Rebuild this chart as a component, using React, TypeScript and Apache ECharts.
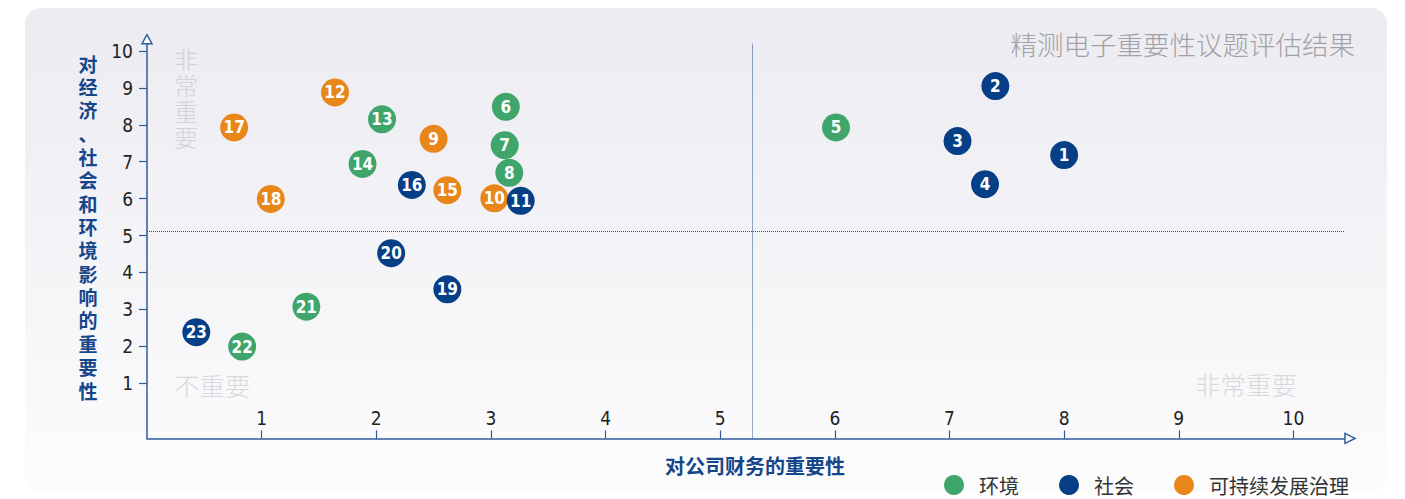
import React, { useEffect, useRef } from "react";
import * as echarts from "echarts";

const CATEGORIES = ["环境", "社会", "可持续发展治理"];
const COLORS = ["#3fa56b", "#063f85", "#e9861a"];

const envIds = [5, 6, 7, 8, 13, 14, 21, 22];
const envX = [6.01, 3.13, 3.12, 3.16, 2.05, 1.88, 1.39, 0.83];
const envY = [7.93, 8.49, 7.45, 6.7, 8.15, 6.94, 3.07, 1.99];

const socIds = [1, 2, 3, 4, 11, 16, 19, 20, 23];
const socX = [8.0, 7.4, 7.07, 7.31, 3.26, 2.31, 2.62, 2.13, 0.43];
const socY = [7.18, 9.05, 7.56, 6.39, 5.94, 6.37, 3.54, 4.52, 2.38];

const govIds = [9, 10, 12, 15, 17, 18];
const govX = [2.5, 3.03, 1.64, 2.62, 0.76, 1.08];
const govY = [7.62, 6.01, 8.88, 6.23, 7.93, 5.99];

const TICKS = [1, 2, 3, 4, 5, 6, 7, 8, 9, 10];
const X_THRESHOLD = 5.28;
const Y_THRESHOLD = 5.12;

const TITLE = "精测电子重要性议题评估结果";
const X_NAME = "对公司财务的重要性";
const Y_NAME = "对经济、社会和环境影响的重要性";
const Q_TOP_LEFT = "非常重要";
const Q_BOTTOM_LEFT = "不重要";
const Q_BOTTOM_RIGHT = "非常重要";

const X_MIN = 0;
const X_MAX = 10.45;
const Y_MIN = -0.5;
const Y_MAX = 10.2;

const AXIS_COLOR = "#2f5d9c";
const NAME_COLOR = "#16468a";
const NUM_FONT = "'Liberation Sans Narrow', 'DejaVu Sans Condensed', 'Roboto', sans-serif";
const CJK_FONT = "'Noto Sans CJK SC', 'Noto Sans', sans-serif";

function pts(ids: number[], xs: number[], ys: number[]) {
  return ids.map((id, i) => [xs[i], ys[i], id]);
}

function verticalText(idPrefix: string, text: string, x: number, yCenter0: number, step: number, style: any) {
  return text.split("").map((ch, i) => ({
    id: idPrefix + i,
    type: "text",
    x,
    y: yCenter0 + i * step,
    z: 1,
    silent: true,
    style: {
      text: ch,
      align: "center",
      verticalAlign: "middle",
      lineHeight: step - 1,
      ...style,
    },
  }));
}

export default function App() {
  const ref = useRef<HTMLDivElement>(null);
  useEffect(() => {
    if (!ref.current) return;
    const chart = echarts.init(ref.current, undefined, { renderer: "svg" });
    const seriesData = [
      pts(envIds, envX, envY),
      pts(socIds, socX, socY),
      pts(govIds, govX, govY),
    ];
    const baseGraphic: any[] = [
      {
        id: "bg",
        type: "rect",
        z: -100,
        silent: true,
        shape: { x: 25, y: 8, width: 1362, height: 484, r: 16 },
        style: {
          fill: new echarts.graphic.LinearGradient(0, 0, 0, 1, [
            { offset: 0, color: "#ecebf1" },
            { offset: 1, color: "#fcfcfd" },
          ]),
        },
      },
      {
        id: "title",
        type: "text",
        x: 1355,
        y: 43,
        style: {
          text: TITLE,
          fontSize: 26.5,
          fontWeight: 300,
          fill: "#a2a2a6",
          align: "right",
          verticalAlign: "middle",
          fontFamily: CJK_FONT,
        },
      },
      ...verticalText("yname", Y_NAME, 88, 63, 23.36, {
        fontSize: 19,
        fontWeight: "bold",
        fill: NAME_COLOR,
        fontFamily: CJK_FONT,
      }),
      {
        id: "xname",
        type: "text",
        x: 755,
        y: 465,
        style: {
          text: X_NAME,
          fontSize: 20,
          fontWeight: "bold",
          fill: NAME_COLOR,
          align: "center",
          verticalAlign: "middle",
          fontFamily: CJK_FONT,
        },
      },
      ...verticalText("q1_", Q_TOP_LEFT, 186, 58, 26.3, {
        fontSize: 24,
        fontWeight: 300,
        fill: "#d2d2d6",
        fontFamily: CJK_FONT,
      }),
      {
        id: "q2",
        type: "text",
        x: 174,
        y: 384,
        z: 1,
        style: {
          text: Q_BOTTOM_LEFT,
          fontSize: 25.5,
          fontWeight: 300,
          fill: "#d8d8dc",
          align: "left",
          verticalAlign: "middle",
          fontFamily: CJK_FONT,
        },
      },
      {
        id: "q3",
        type: "text",
        x: 1297,
        y: 383,
        z: 1,
        style: {
          text: Q_BOTTOM_RIGHT,
          fontSize: 25.5,
          fontWeight: 300,
          fill: "#d8d8dc",
          align: "right",
          verticalAlign: "middle",
          fontFamily: CJK_FONT,
        },
      },
    ];

    const option: any = {
      animation: false,
      graphic: baseGraphic,
      grid: {
        left: 147,
        right: 60,
        top: 43.7,
        bottom: 60.6,
        containLabel: false,
        outerBoundsMode: "none",
      },
      legend: {
        data: CATEGORIES,
        icon: "circle",
        itemWidth: 20,
        itemHeight: 20,
        itemGap: 40,
        left: 939,
        top: 469,
        textStyle: {
          fontSize: 20,
          lineHeight: 22,
          color: "#333",
          fontFamily: CJK_FONT,
          padding: [0, 0, 0, 10],
        },
      },
      xAxis: {
        type: "value",
        min: X_MIN,
        max: X_MAX,
        splitLine: { show: false },
        axisLine: { show: true, onZero: false, lineStyle: { color: AXIS_COLOR, width: 1.5 } },
        axisTick: {
          show: true,
          inside: true,
          length: 8,
          customValues: TICKS,
          lineStyle: { color: AXIS_COLOR, width: 1.2 },
        },
        axisLabel: {
          inside: true,
          margin: 11,
          customValues: TICKS,
          color: "#222",
          fontSize: 19,
          fontFamily: NUM_FONT,
        },
      },
      yAxis: {
        type: "value",
        min: Y_MIN,
        max: Y_MAX,
        splitLine: { show: false },
        axisLine: { show: true, onZero: false, lineStyle: { color: AXIS_COLOR, width: 1.5 } },
        axisTick: {
          show: true,
          length: 8,
          customValues: TICKS,
          lineStyle: { color: AXIS_COLOR, width: 1.2 },
        },
        axisLabel: {
          margin: 14,
          customValues: TICKS,
          color: "#222",
          fontSize: 19,
          fontFamily: NUM_FONT,
        },
      },
      series: CATEGORIES.map((name, i) => ({
        name,
        type: "scatter",
        z: i === 1 ? 4 : 3,
        symbolSize: 28,
        data: seriesData[i],
        itemStyle: { color: COLORS[i], opacity: 1 },
        label: {
          show: true,
          position: "inside",
          formatter: (p: any) => String(p.data[2]),
          color: "#fff",
          fontSize: 17,
          fontWeight: "bold",
          fontFamily: NUM_FONT,
        },
        markLine:
          i === 0
            ? {
                silent: true,
                symbol: "none",
                label: { show: false },
                lineStyle: { type: "dotted", color: "#2c4f8a", width: 1 },
                data: [{ xAxis: X_THRESHOLD }, { yAxis: Y_THRESHOLD }],
              }
            : undefined,
      })),
    };
    chart.setOption(option);

    const topPt = chart.convertToPixel({ gridIndex: 0 }, [X_MIN, Y_MAX]) as number[];
    const rightPt = chart.convertToPixel({ gridIndex: 0 }, [X_MAX, Y_MIN]) as number[];
    const arrowStyle = { fill: "#ffffff", stroke: AXIS_COLOR, lineWidth: 1.5 };
    chart.setOption({
      graphic: [
        ...baseGraphic,
        {
          id: "yarrow",
          type: "polygon",
          z: 10,
          shape: {
            points: [
              [topPt[0], topPt[1] - 9],
              [topPt[0] - 5, topPt[1]],
              [topPt[0] + 5, topPt[1]],
            ],
          },
          style: arrowStyle,
        },
        {
          id: "xarrow",
          type: "polygon",
          z: 10,
          shape: {
            points: [
              [rightPt[0] + 10, rightPt[1]],
              [rightPt[0], rightPt[1] - 5],
              [rightPt[0], rightPt[1] + 5],
            ],
          },
          style: arrowStyle,
        },
      ],
    });

    return () => chart.dispose();
  }, []);
  return (
    <div
      ref={ref}
      style={{ position: "fixed", left: 0, top: 0, width: 1405, height: 499, background: "#ffffff" }}
    />
  );
}
